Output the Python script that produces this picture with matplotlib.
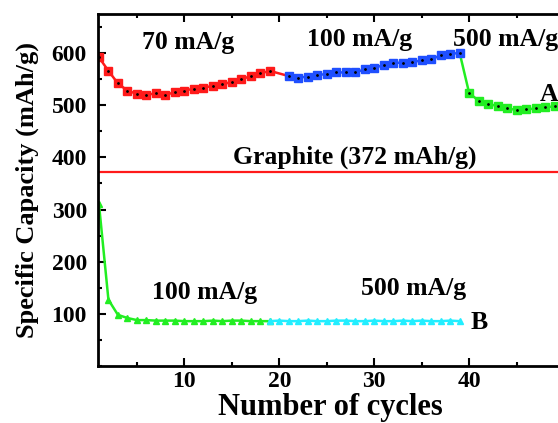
import matplotlib
matplotlib.use("Agg")
import matplotlib.pyplot as plt
from matplotlib.ticker import MultipleLocator

plt.rcParams['font.family'] = ['Liberation Serif', 'DejaVu Serif']
plt.rcParams['font.weight'] = 'bold'

# sample A: 70 mA/g, 100 mA/g, 500 mA/g
a70_x = list(range(1, 20))
a70_y = [592, 566, 542, 528, 522, 520, 523, 520, 525, 528,
         532, 534, 537, 540, 545, 550, 556, 561, 566]
a100_x = list(range(21, 40))
a100_y = [556, 553, 555, 558, 560, 563, 563, 563, 569, 572,
          577, 581, 582, 583, 586, 588, 596, 599, 600]
a500_x = list(range(40, 51))
a500_y = [523, 509, 502, 499, 494, 491, 492, 494, 496, 498, 498]

# sample B: 100 mA/g then 500 mA/g
b100_x = list(range(1, 20))
b100_y = [311, 127, 98, 92, 88, 88, 87, 87, 87, 86,
          86, 86, 87, 86, 87, 87, 86, 86, 86]
b500_x = list(range(19, 40))
b500_y = [86, 87, 86, 86, 87, 86, 86, 87, 87, 86, 86,
          87, 86, 86, 87, 86, 87, 86, 86, 87, 86]

graphite = 372

fig = plt.figure(figsize=(5.58, 4.23), dpi=100)
ax = fig.add_axes([0.1756, 0.1348, 0.832, 0.832])

red = '#ff1a1a'
blue = '#1f4fff'
green = '#22ee22'
cyan = '#22eeff'

# join segments of curve A
ax.plot([a70_x[-1], a100_x[0]], [a70_y[-1], a100_y[0]], color=red, lw=1.8)
ax.plot([a100_x[-1], a500_x[0]], [a100_y[-1], a500_y[0]], color=green, lw=1.8)

for xs, ys, c in [(a70_x, a70_y, red), (a100_x, a100_y, blue), (a500_x, a500_y, green)]:
    ax.plot(xs, ys, color=c, lw=1.8, marker='s', ms=5.5, mec=c, mfc=c)
    ax.plot(xs, ys, ls='none', marker='.', ms=2, color='black')

ax.plot(b100_x, b100_y, color=green, lw=1.8, marker='^', ms=5, mec=green)
ax.plot(b500_x, b500_y, color=cyan, lw=1.8, marker='^', ms=4, mec=cyan)

ax.axhline(graphite, color=red, lw=1.6)

ax.set_xlim(0.9, 49.8)
ax.set_ylim(0, 675)
ax.xaxis.set_major_locator(MultipleLocator(10))
ax.xaxis.set_minor_locator(MultipleLocator(5))
ax.yaxis.set_minor_locator(MultipleLocator(50))
ax.set_yticks([100, 200, 300, 400, 500, 600])
ax.tick_params(which='both', direction='in', top=True, right=False, width=1.5,
               labelsize=17)
ax.tick_params(axis='y', which='both', pad=8)
ax.tick_params(which='major', length=6)
ax.tick_params(which='minor', length=3)
for s in ax.spines.values():
    s.set_linewidth(2)
ax.spines['right'].set_visible(False)

ax.set_xlabel('Number of cycles', fontsize=22, fontweight='bold', labelpad=1)
ax.set_ylabel('Specific Capacity (mAh/g)', fontsize=19, fontweight='bold', labelpad=9)

tk = dict(fontsize=18.5, fontweight='bold', ha='center', va='center')
ax.text(10.4, 620, '70 mA/g', **tk)
ax.text(28.5, 626, '100 mA/g', **tk)
ax.text(38.3, 626, '500 mA/g', fontsize=18.5, fontweight='bold', ha='left', va='center')
ax.text(48.4, 520, 'A', **tk)
ax.text(27.9, 400, 'Graphite (372 mAh/g)', **tk)
ax.text(12.1, 141, '100 mA/g', **tk)
ax.text(34.1, 149, '500 mA/g', **tk)
ax.text(41.1, 84, 'B', **tk)

fig.savefig('out.png', dpi=100)
